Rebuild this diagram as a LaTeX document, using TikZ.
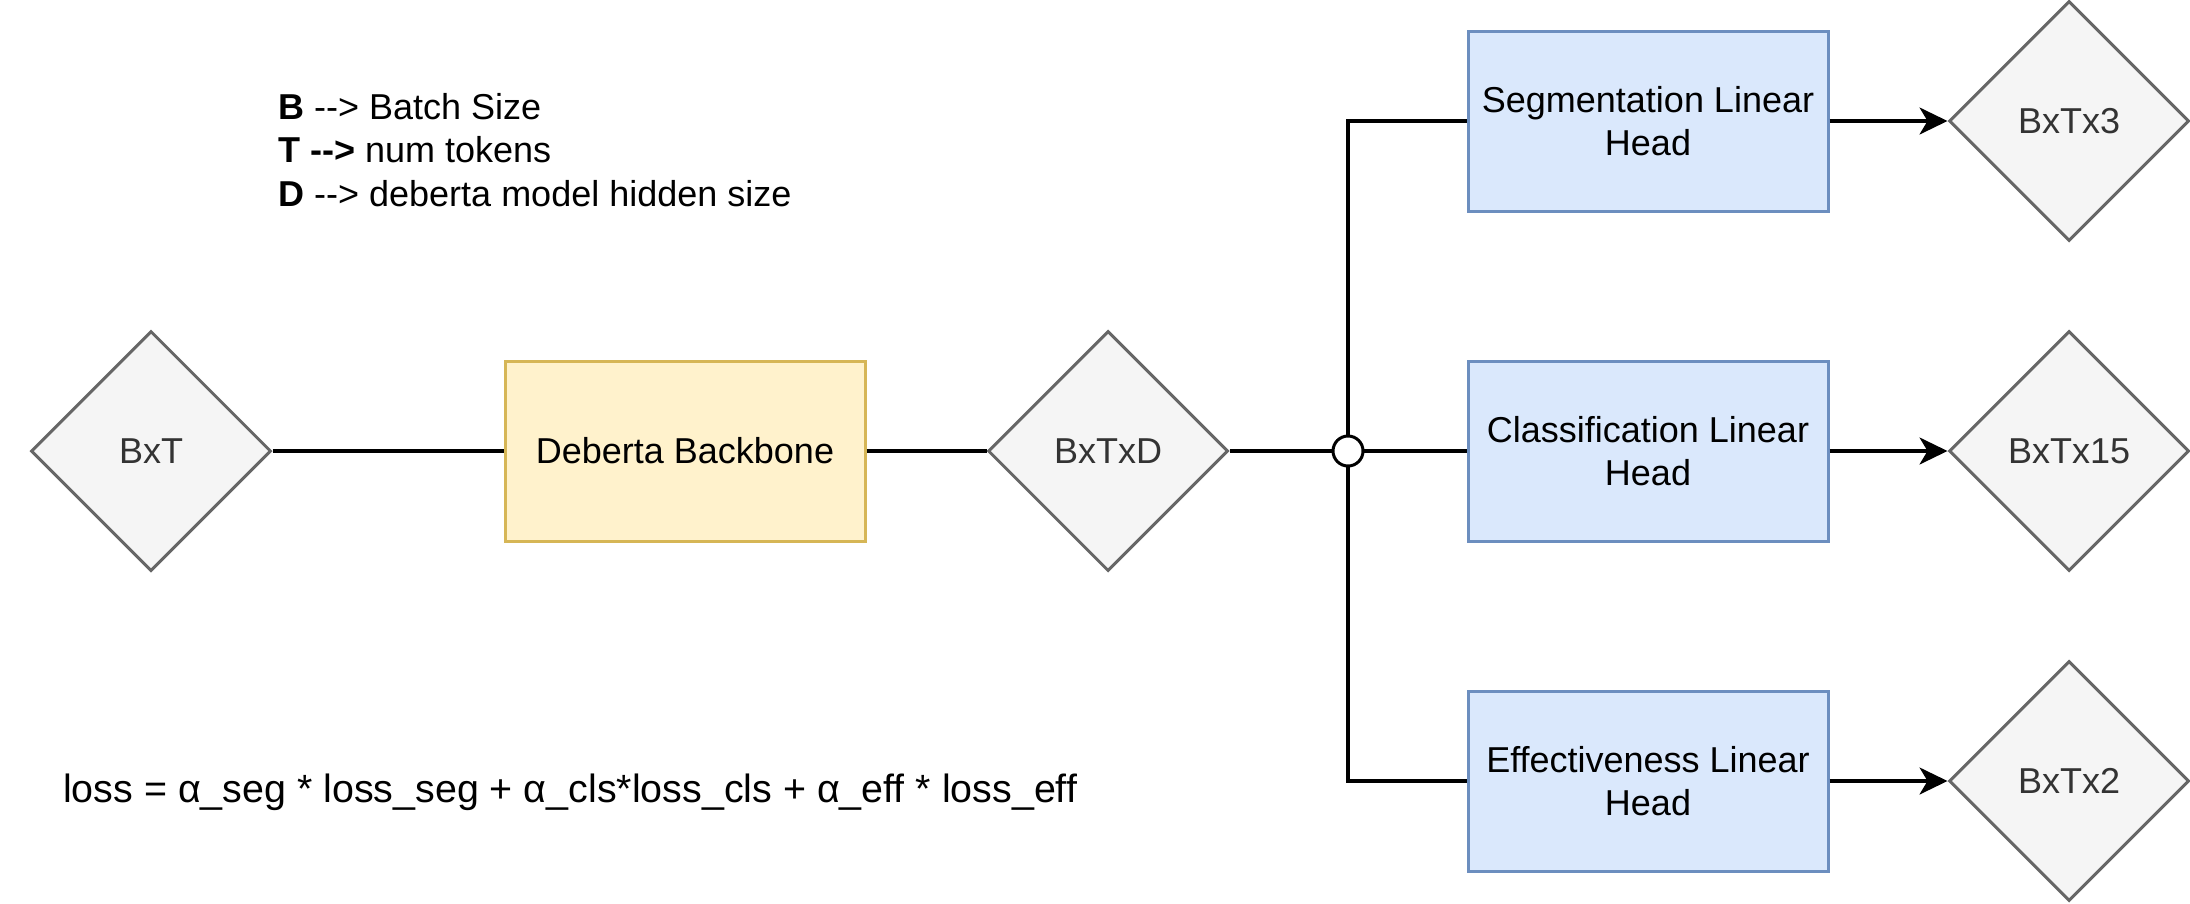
\documentclass[tikz,border=0pt]{standalone}
\usepackage{fontspec}
\setmainfont{Liberation Sans}
\usetikzlibrary{shapes.geometric,arrows.meta}
\definecolor{dfill}{HTML}{F5F5F5}
\definecolor{dline}{HTML}{666666}
\definecolor{dtext}{HTML}{333333}
\definecolor{yfill}{HTML}{FFF2CC}
\definecolor{yline}{HTML}{D6B656}
\definecolor{bfill}{HTML}{DAE8FC}
\definecolor{bline}{HTML}{6C8EBF}
\tikzset{
  base/.style={font=\fontsize{36}{43.2}\selectfont, align=center, inner sep=0pt},
  dia/.style={base, diamond, draw=dline, fill=dfill, text=dtext, line width=3pt,
    minimum width=240pt, minimum height=240pt},
  ybox/.style={base, rectangle, draw=yline, fill=yfill, line width=3pt,
    minimum width=360pt, minimum height=180pt},
  bbox/.style={base, rectangle, draw=bline, fill=bfill, line width=3pt,
    minimum width=360pt, minimum height=180pt},
  conn/.style={line width=3.2pt, draw=black},
  arr/.style={conn, -{Stealth[length=28pt,width=27pt,inset=8pt]}},
  junc/.style={circle, draw=black, fill=white, line width=3pt, minimum size=30pt, inner sep=0pt}
}
\begin{document}
\begin{tikzpicture}[x=1pt,y=-1pt]
\useasboundingbox (0,0) rectangle (2190,903);
\node[dia] (bxt) at (151,451) {BxT};
\node[ybox] (deb) at (685,451) {Deberta Backbone};
\node[dia] (bxtd) at (1108,451) {BxTxD};
\node[bbox] (seg) at (1648,121) {Segmentation Linear\\Head};
\node[bbox] (cls) at (1648,451) {Classification Linear\\Head};
\node[bbox] (eff) at (1648,781) {Effectiveness Linear\\Head};
\node[dia] (o1) at (2069,121) {BxTx3};
\node[dia] (o2) at (2069,451) {BxTx15};
\node[dia] (o3) at (2069,781) {BxTx2};
\coordinate (j) at (1348,451);
\draw[conn] (bxt) -- (deb);
\draw[conn] (deb) -- (bxtd);
\draw[conn] (bxtd) -- (j);
\draw[conn] (j) -- (cls);
\draw[conn] (j) |- (seg.west);
\draw[conn] (j) |- (eff.west);
\node[junc] (jc) at (j) {};
\draw[arr] (seg) -- (o1);
\draw[arr] (cls) -- (o2);
\draw[arr] (eff) -- (o3);
\node[base, anchor=west, align=left] (legend) at (278,150) {\textbf{B} -{}-{}> Batch Size\\\textbf{T -{}-{}>} num tokens\\\textbf{D} -{}-{}> deberta model hidden size};
\node[base, anchor=west, font=\fontsize{39.4}{47}\selectfont] (loss) at (63,792) {loss = α\_seg * loss\_seg + α\_cls*loss\_cls + α\_eff * loss\_eff};
\end{tikzpicture}
\end{document}
